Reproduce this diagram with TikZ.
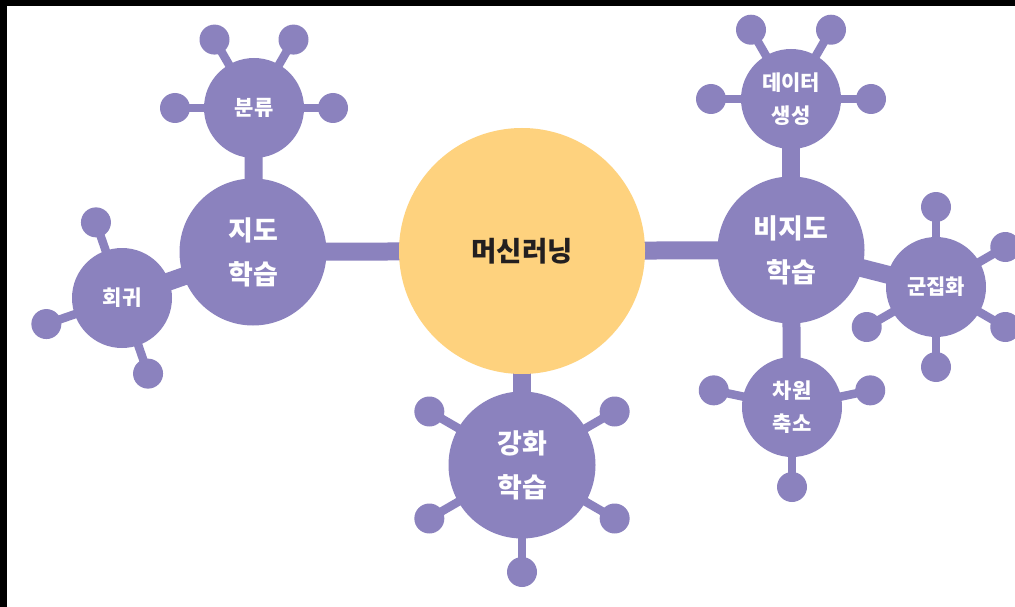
\documentclass[tikz,border=0pt]{standalone}
\usepackage{fontspec}
\newfontfamily\kr{Noto Sans CJK KR}
\usetikzlibrary{backgrounds}
\definecolor{pur}{HTML}{8B82BE}
\definecolor{yel}{HTML}{FED27E}
\definecolor{ink}{HTML}{231F20}
\begin{document}
\begin{tikzpicture}[x=1pt,y=1pt,
  bignode/.style={circle, fill=pur, minimum size=147pt, inner sep=0pt, text=white,
    font=\kr\bfseries\fontsize{27}{44}\selectfont, align=center},
  smallnode/.style={circle, fill=pur, minimum size=100pt, inner sep=0pt, text=white,
    font=\kr\bfseries\fontsize{21}{33}\selectfont, align=center},
  ball/.style={circle, fill=pur, minimum size=30pt, inner sep=0pt},
  bar/.style={draw=pur, line width=18pt},
  stem/.style={draw=pur, line width=8.5pt}]
\useasboundingbox (0,0) rectangle (1015,-607);
% main nodes
\node[circle, fill=yel, minimum size=246pt, inner sep=0pt, text=ink,
  font=\kr\bfseries\fontsize{27.5}{32}\selectfont] (ml) at (522,-251) {머신러닝};
\node[bignode] (sup) at (253,-252) {지도\\학습};
\node[bignode] (uns) at (791,-250) {비지도\\학습};
\node[bignode] (rl) at (522,-465) {강화\\학습};
\node[smallnode] (cls) at (254,-108) {분류};
\node[smallnode] (reg) at (122,-298) {회귀};
\node[smallnode] (gen) at (791,-99) {데이터\\생성};
\node[smallnode] (clu) at (936,-287) {군집화};
\node[smallnode] (dim) at (792,-407) {차원\\축소};
% satellite balls
\foreach \a [count=\i] in {0,60,120,180}
  \node[ball] (cls\i) at ([shift={(\a:79)}]cls.center) {};
\foreach \a [count=\i] in {109,199,289}
  \node[ball] (reg\i) at ([shift={(\a:80)}]reg.center) {};
\foreach \a [count=\i] in {0,60,120,180}
  \node[ball] (gen\i) at ([shift={(\a:80)}]gen.center) {};
\foreach \a [count=\i] in {90,30,-30,-90,210}
  \node[ball] (clu\i) at ([shift={(\a:80)}]clu.center) {};
\foreach \a [count=\i] in {168,12,-90}
  \node[ball] (dim\i) at ([shift={(\a:80)}]dim.center) {};
\foreach \a [count=\i] in {150,30,210,-30,-90}
  \node[ball] (rl\i) at ([shift={(\a:107)}]rl.center) {};
% connectors
\begin{scope}[on background layer]
  \fill[black] (0,0) rectangle (1015,-607);
  \fill[white] (7,-6) rectangle (1015,-607);
  \draw[bar] (ml.center) -- (sup.center);
  \draw[bar] (ml.center) -- (uns.center);
  \draw[bar] (ml.center) -- (rl.center);
  \draw[bar] (sup.center) -- (cls.center);
  \draw[bar] (sup.center) -- (reg.center);
  \draw[bar] (uns.center) -- (gen.center);
  \draw[bar] (uns.center) -- (clu.center);
  \draw[bar] (uns.center) -- (dim.center);
  \foreach \i in {1,...,4} \draw[stem] (cls.center) -- (cls\i.center);
  \foreach \i in {1,...,3} \draw[stem] (reg.center) -- (reg\i.center);
  \foreach \i in {1,...,4} \draw[stem] (gen.center) -- (gen\i.center);
  \foreach \i in {1,...,5} \draw[stem] (clu.center) -- (clu\i.center);
  \foreach \i in {1,...,3} \draw[stem] (dim.center) -- (dim\i.center);
  \foreach \i in {1,...,5} \draw[stem] (rl.center) -- (rl\i.center);
\end{scope}
\end{tikzpicture}
\end{document}
